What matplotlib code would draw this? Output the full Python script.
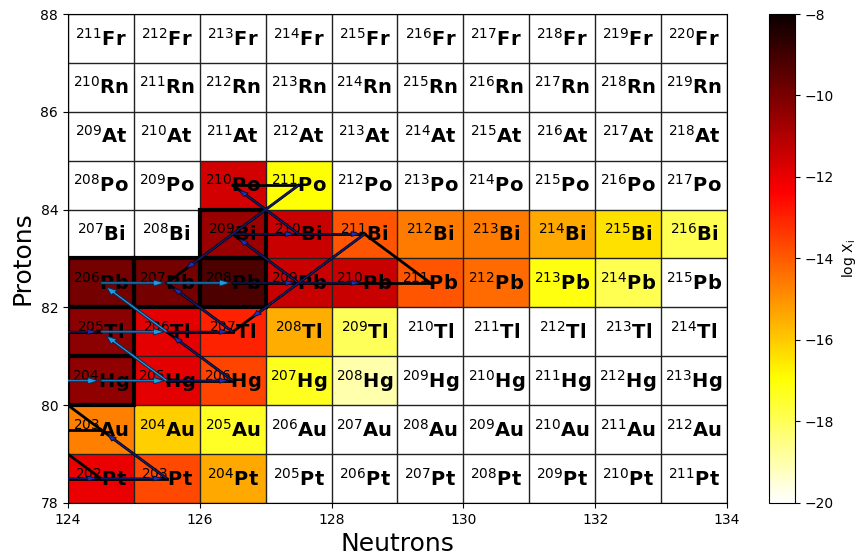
import numpy as np
import matplotlib
matplotlib.use('Agg')
import matplotlib.pyplot as plt
from matplotlib.patches import Rectangle

'''------------------------------------DATA---------------------------------------------------------------'''

neutrons = np.arange(124, 134)      # N of first column .. last column
protons = np.arange(78, 88)         # Z of bottom row .. top row
elements = ['Pt', 'Au', 'Hg', 'Tl', 'Pb', 'Bi', 'Po', 'At', 'Rn', 'Fr']

nan = np.nan
# log10 of mass fraction, one list per element, indexed by N = 124..133
logx_pt = [-12.0, -13.7, -15.4, nan, nan, nan, nan, nan, nan, nan]
logx_au = [-14.7, -16.1, -17.4, nan, nan, nan, nan, nan, nan, nan]
logx_hg = [-10.4, -11.9, -13.6, -17.3, -19.0, nan, nan, nan, nan, nan]
logx_tl = [-10.3, -11.9, -13.0, -15.5, -18.0, nan, nan, nan, nan, nan]
logx_pb = [-9.9, -9.9, -9.2, -11.4, -11.4, -13.9, -14.3, -17.1, -17.9, nan]
logx_bi = [nan, nan, -10.6, -11.4, -13.9, -14.6, -14.6, -15.4, -16.4, -17.9]
logx_po = [nan, nan, -11.6, -17.0, nan, nan, nan, nan, nan, nan]
logx_at = [nan] * 10
logx_rn = [nan] * 10
logx_fr = [nan] * 10

# stable nuclides (N, Z) get a thick frame
stable = [(124, 80), (124, 81), (124, 82), (125, 82), (126, 82), (126, 83)]

# reaction flows: (N_from, Z_from, N_to, Z_to, kind)
# kind 'main' = strong path, 'flow' = weaker path, 'line' = no arrow head
flows = [
    (123, 78, 124, 78, 'flow'),
    (124, 78, 125, 78, 'flow'),
    (124, 78, 123, 79, 'line'),
    (125, 78, 124, 79, 'flow'),
    (124, 79, 123, 80, 'line'),
    (123, 79, 124, 79, 'line'),
    (123, 80, 124, 80, 'main'),
    (124, 80, 125, 80, 'main'),
    (125, 80, 126, 80, 'flow'),
    (125, 80, 124, 81, 'main'),
    (126, 80, 125, 81, 'flow'),
    (123, 81, 124, 81, 'flow'),
    (124, 81, 125, 81, 'main'),
    (125, 81, 126, 81, 'flow'),
    (125, 81, 124, 82, 'main'),
    (126, 81, 125, 82, 'flow'),
    (124, 82, 125, 82, 'main'),
    (125, 82, 126, 82, 'main'),
    (126, 82, 127, 82, 'flow'),
    (127, 82, 128, 82, 'flow'),
    (128, 82, 129, 82, 'line'),
    (127, 82, 126, 83, 'flow'),
    (129, 82, 128, 83, 'line'),
    (126, 83, 127, 83, 'flow'),
    (127, 83, 128, 83, 'flow'),
    (127, 83, 126, 84, 'flow'),
    (128, 83, 126, 81, 'flow'),
    (126, 84, 127, 84, 'line'),
    (127, 84, 125, 82, 'flow'),
]

'''------------------------------------PLOT---------------------------------------------------------------'''


def main():
    logx = np.array([logx_pt, logx_au, logx_hg, logx_tl, logx_pb,
                     logx_bi, logx_po, logx_at, logx_rn, logx_fr])

    fig = plt.figure(figsize=(8.57, 5.6), dpi=100)
    ax = fig.add_axes([0.0793, 0.1018, 0.7690, 0.8732])
    cax = fig.add_axes([0.8973, 0.1018, 0.0303, 0.8732])

    cmap = plt.get_cmap('hot_r').copy()
    cmap.set_bad('white')
    n_edges = np.append(neutrons, neutrons[-1] + 1)
    z_edges = np.append(protons, protons[-1] + 1)
    mesh = ax.pcolormesh(n_edges, z_edges, np.ma.masked_invalid(logx), cmap=cmap,
                         vmin=-20, vmax=-8, linewidth=0)

    # cell borders (also for empty cells)
    ax.vlines(n_edges, z_edges[0], z_edges[-1], colors='#222222', linewidth=1.0, zorder=1.5)
    ax.hlines(z_edges, n_edges[0], n_edges[-1], colors='#222222', linewidth=1.0, zorder=1.5)

    for n, z in stable:
        ax.add_patch(Rectangle((n, z), 1, 1, fill=False, edgecolor='k', linewidth=3, zorder=2))

    for i, z in enumerate(protons):
        for j, n in enumerate(neutrons):
            a = n + z
            ax.text(n + 0.5, z + 0.5, rf'$^{{{a}}}\mathbf{{{elements[i]}}}$',
                    ha='center', va='center', fontsize=14, zorder=3)

    for n0, z0, n1, z1, kind in flows:
        x0, y0 = n0 + 0.5, z0 + 0.5
        dx, dy = n1 - n0, z1 - z0
        if kind == 'main':
            ax.arrow(x0, y0, 0.8 * dx, 0.8 * dy, width=0.04, head_width=0.13, head_length=0.16,
                     fc='#1f9ce0', ec='#0a2a55', linewidth=0.7, zorder=5)
        else:
            ax.plot([x0, x0 + dx], [y0, y0 + dy], color='k', linewidth=2.0, zorder=4)
            if kind == 'flow':
                ax.arrow(x0, y0, 0.8 * dx, 0.8 * dy, width=0.025, head_width=0.1, head_length=0.14,
                         fc='#1c2fb5', ec='#0a0f30', linewidth=0.6, zorder=5)

    ax.set_xlim(124, 134)
    ax.set_ylim(78, 88)
    ax.set_xticks(range(124, 135, 2))
    ax.set_yticks(range(78, 89, 2))
    ax.set_xlabel('Neutrons', fontsize=18)
    ax.set_ylabel('Protons', fontsize=18)

    cb = fig.colorbar(mesh, cax=cax)
    cb.set_ticks(range(-20, -7, 2))
    cb.set_label('log X$_\\mathrm{i}$')

    fig.savefig('out.png', dpi=100)

    return 0


if __name__ == '__main__':
    main()
